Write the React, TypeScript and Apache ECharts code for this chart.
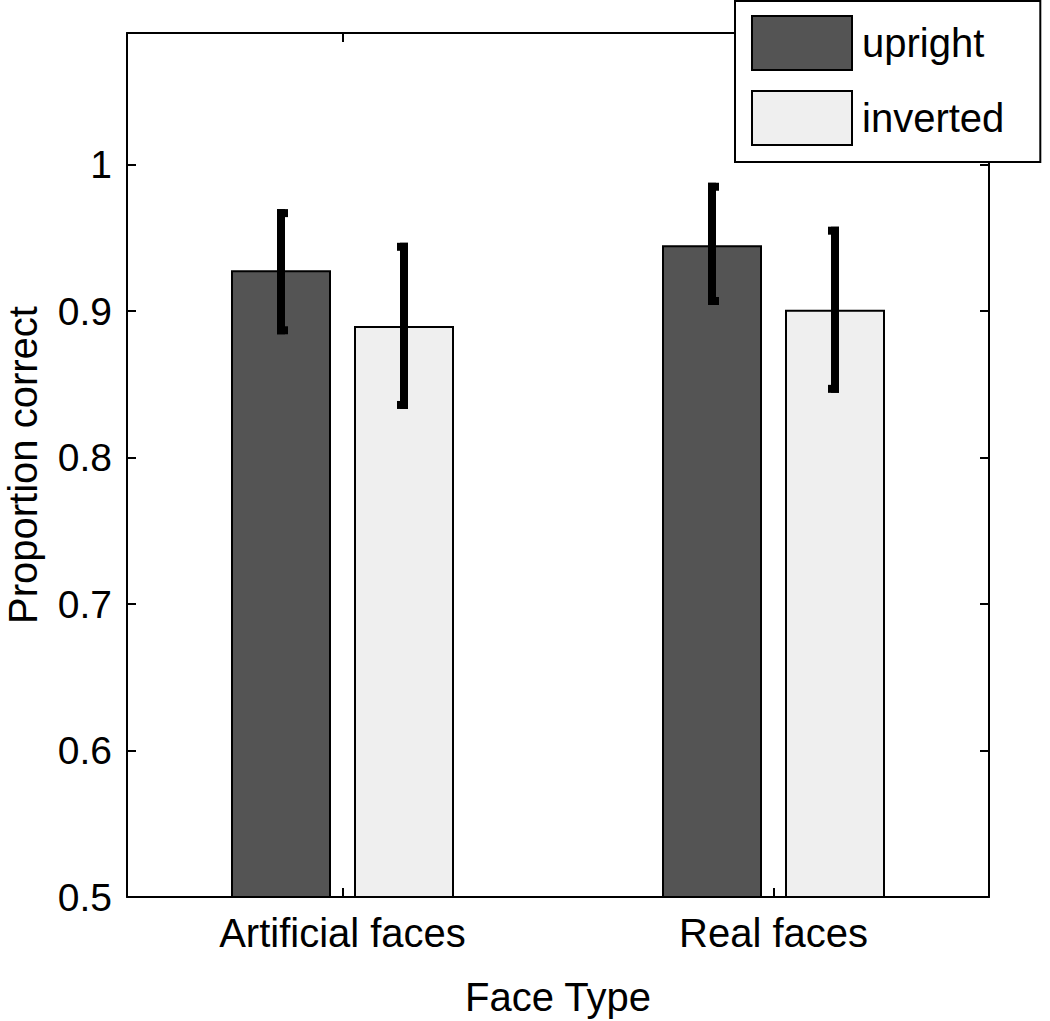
import React, { useEffect, useRef } from "react";
import * as echarts from "echarts";

const categories = ["Artificial faces", "Real faces"];
const seriesNames = ["upright", "inverted"];
const uprightMean = [0.928, 0.945];
const uprightLow = [0.887, 0.907];
const uprightHigh = [0.967, 0.985];
const invertedMean = [0.89, 0.901];
const invertedLow = [0.836, 0.847];
const invertedHigh = [0.944, 0.955];
const yMin = 0.5;
const yMax = 1.09;
const yInterval = 0.1;

const FONT = "'Liberation Sans', Arial, Helvetica, sans-serif";
const FS = 39;
const FS_TXT = 40;
const BAR_W = 100;
const BAR_GAP = 0.23;
const DARK = "#545454";
const LIGHT = "#efefef";

function errorRenderer(dir: number) {
  const offset = (BAR_W * (1 + BAR_GAP)) / 2;
  return (params: any, api: any) => {
    const idx = api.value(0);
    const lo = api.value(1);
    const hi = api.value(2);
    const pHi = api.coord([idx, hi]);
    const pLo = api.coord([idx, lo]);
    const x = pHi[0] + dir * offset;
    const lw = 8;
    const capExtra = 3;
    const capX = dir < 0 ? x - lw / 2 : x - lw / 2 - capExtra;
    const style = { fill: "#000" };
    return {
      type: "group",
      children: [
        { type: "rect", shape: { x: x - lw / 2, y: pHi[1] - lw / 2, width: lw, height: pLo[1] - pHi[1] + lw }, style },
        { type: "rect", shape: { x: capX, y: pHi[1] - lw / 2, width: lw + capExtra, height: lw }, style },
        { type: "rect", shape: { x: capX, y: pLo[1] - lw / 2, width: lw + capExtra, height: lw }, style },
      ],
    };
  };
}

export default function App() {
  const ref = useRef<HTMLDivElement>(null);
  useEffect(() => {
    document.body.style.margin = "0";
    const chart = echarts.init(ref.current!, null, { renderer: "svg" });
    const axisLine = { show: true, lineStyle: { color: "#000", width: 2 } };
    const axisTick = { show: true, inside: true, length: 9, lineStyle: { color: "#000", width: 2 } };
    const yLabelFmt = (v: number) => {
      const r = Math.round(v * 10) / 10;
      return Math.abs(v - r) < 1e-6 ? String(r) : "";
    };
    chart.setOption({
      animation: false,
      backgroundColor: "#fff",
      textStyle: { fontFamily: FONT },
      grid: { left: 127, top: 33, right: 61, bottom: 124, containLabel: false, outerBoundsMode: "none" },
      legend: {
        orient: "vertical",
        left: 735,
        top: 1,
        data: seriesNames,
        icon: "rect",
        itemWidth: 100,
        itemHeight: 54,
        itemGap: 19,
        padding: [14, 36, 16, 16],
        borderColor: "#000",
        borderWidth: 2,
        borderRadius: 0,
        backgroundColor: "#fff",
        selectedMode: false,
        textStyle: { fontFamily: FONT, fontSize: FS_TXT, color: "#000", padding: [7, 0, 0, 5] },
      },
      xAxis: [
        {
          type: "category",
          data: categories,
          position: "bottom",
          axisLine,
          axisTick: { ...axisTick, alignWithLabel: true },
          axisLabel: { fontFamily: FONT, fontSize: FS_TXT, color: "#000", margin: 16 },
          name: "Face Type",
          nameLocation: "middle",
          nameGap: 80,
          nameTextStyle: { fontFamily: FONT, fontSize: FS_TXT, color: "#000" },
          splitLine: { show: false },
        },
        {
          type: "category",
          data: categories,
          position: "top",
          axisLine,
          axisTick: { ...axisTick, alignWithLabel: true },
          axisLabel: { show: false },
          splitLine: { show: false },
        },
      ],
      yAxis: [
        {
          type: "value",
          min: yMin,
          max: yMax,
          interval: yInterval,
          position: "left",
          axisLine,
          axisTick,
          axisLabel: { fontFamily: FONT, fontSize: FS, color: "#000", margin: 15, formatter: yLabelFmt },
          splitLine: { show: false },
          name: "Proportion correct",
          nameLocation: "middle",
          nameGap: 84,
          nameRotate: 90,
          nameTextStyle: { fontFamily: FONT, fontSize: FS_TXT, color: "#000" },
        },
        {
          type: "value",
          min: yMin,
          max: yMax,
          interval: yInterval,
          position: "right",
          axisLine,
          axisTick,
          axisLabel: { show: false },
          splitLine: { show: false },
        },
      ],
      series: [
        {
          name: seriesNames[0],
          type: "bar",
          data: uprightMean,
          barWidth: BAR_W,
          barGap: BAR_GAP * 100 + "%",
          itemStyle: { color: DARK, borderColor: "#000", borderWidth: 2 },
        },
        {
          name: seriesNames[1],
          type: "bar",
          data: invertedMean,
          barWidth: BAR_W,
          barGap: BAR_GAP * 100 + "%",
          itemStyle: { color: LIGHT, borderColor: "#000", borderWidth: 2 },
        },
        {
          type: "custom",
          name: "upright error",
          renderItem: errorRenderer(-1),
          data: categories.map((_, i) => [i, uprightLow[i], uprightHigh[i]]),
          encode: { x: 0, y: [1, 2] },
          z: 5,
        },
        {
          type: "custom",
          name: "inverted error",
          renderItem: errorRenderer(1),
          data: categories.map((_, i) => [i, invertedLow[i], invertedHigh[i]]),
          encode: { x: 0, y: [1, 2] },
          z: 5,
        },
      ],
    });
    return () => chart.dispose();
  }, []);
  return (
    <div
      ref={ref}
      style={{ position: "fixed", left: 0, top: 0, width: 1050, height: 1021, background: "#fff" }}
    />
  );
}
